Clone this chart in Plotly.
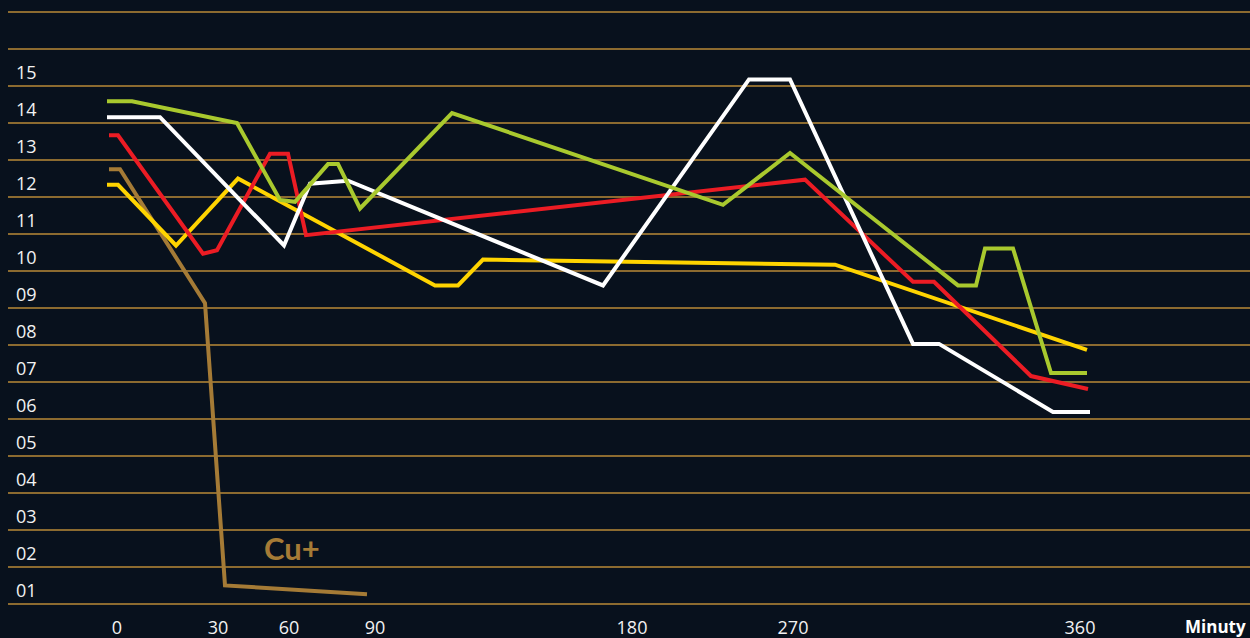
import plotly.graph_objects as go

# ---- data (x in chart position units along the time axis, y in level units) ----
tick_pos = [117, 218, 289, 375, 632, 793, 1080]
tick_text = ["0", "30", "60", "90", "180", "270", "360"]

y_label_vals = [k - 0.63 for k in range(1, 16)]
y_label_text = [f"{k:02d}" for k in range(1, 16)]
grid_vals = list(range(0, 17))

green_x = [107, 132, 237, 280, 295, 328, 338, 360, 452, 723, 790, 958, 976, 985, 1013, 1051, 1087]
green_y = [13.59, 13.59, 13.0, 10.92, 10.87, 11.89, 11.89, 10.69, 13.27, 10.79, 12.19, 8.61, 8.61, 9.61, 9.61, 6.24, 6.24]

white_x = [107, 160, 284, 310, 348, 603, 749, 790, 913, 939, 1053, 1090]
white_y = [13.16, 13.16, 9.69, 11.36, 11.44, 8.61, 14.18, 14.18, 7.03, 7.03, 5.19, 5.19]

red_x = [109, 118, 203, 217, 270, 288, 306, 805, 913, 934, 1031, 1088]
red_y = [12.67, 12.67, 9.47, 9.56, 12.17, 12.17, 9.97, 11.47, 8.71, 8.71, 6.16, 5.81]

yellow_x = [107, 118, 176, 238, 435, 458, 483, 835, 1087]
yellow_y = [11.33, 11.33, 9.69, 11.5, 8.61, 8.61, 9.31, 9.17, 6.87]

brown_x = [109, 120, 205, 225, 367]
brown_y = [11.75, 11.75, 8.13, 0.5, 0.26]

cu_label = "Cu+"
cu_pos = (292, 1.5)
x_title = "Minuty"

BG = "#08111d"
GRID = "#8c6b30"
FONT = "Open Sans"

series = [
    (brown_x, brown_y, "#a57b36"),
    (yellow_x, yellow_y, "#ffd400"),
    (red_x, red_y, "#ec1c24"),
    (white_x, white_y, "#ffffff"),
    (green_x, green_y, "#a9c92e"),
]

fig = go.Figure()
for xs, ys, col in series:
    fig.add_trace(go.Scatter(x=xs, y=ys, mode="lines",
                             line=dict(color=col, width=4, shape="linear"),
                             hoverinfo="skip", showlegend=False))

fig.add_annotation(x=cu_pos[0], y=cu_pos[1], text=cu_label, showarrow=False,
                   font=dict(family="Lato", size=31, color="#a57b36", weight="bold"),
                   xanchor="center", yanchor="middle")

fig.add_annotation(xref="paper", yref="paper", x=1.0, y=0, xshift=-2, yshift=-21,
                   text=x_title, showarrow=False, xanchor="right", yanchor="middle",
                   font=dict(family=FONT, size=17, color="#ffffff", weight="bold"))

fig.update_layout(
    width=1250, height=638,
    margin=dict(l=8, r=0, t=11, b=33),
    paper_bgcolor=BG, plot_bgcolor=BG,
    font=dict(family=FONT, color="#f2f2f2", size=18),
    xaxis=dict(range=[8, 1250], tickmode="array", tickvals=tick_pos, ticktext=tick_text,
               showgrid=False, zeroline=False, showline=False, ticks="",
               ticklabelstandoff=10,
               tickfont=dict(size=18, color="#f2f2f2"), fixedrange=True),
    yaxis=dict(range=[-0.03, 16.03], tickmode="array", tickvals=y_label_vals, ticktext=y_label_text,
               showgrid=False, zeroline=False, showline=False, ticks="",
               ticklabelposition="inside", ticklabelstandoff=5,
               tickfont=dict(size=18, color="#f2f2f2"),
               minor=dict(tickmode="array", tickvals=grid_vals, showgrid=True,
                          gridcolor=GRID, gridwidth=2, ticks=""),
               fixedrange=True),
)

fig.write_html(
    "out.html",
    config={"displayModeBar": False, "staticPlot": True},
    post_script="document.body.style.margin='0';document.body.style.padding='0';"
                "document.body.style.overflow='hidden';"
                "document.body.style.background='" + BG + "';",
)
